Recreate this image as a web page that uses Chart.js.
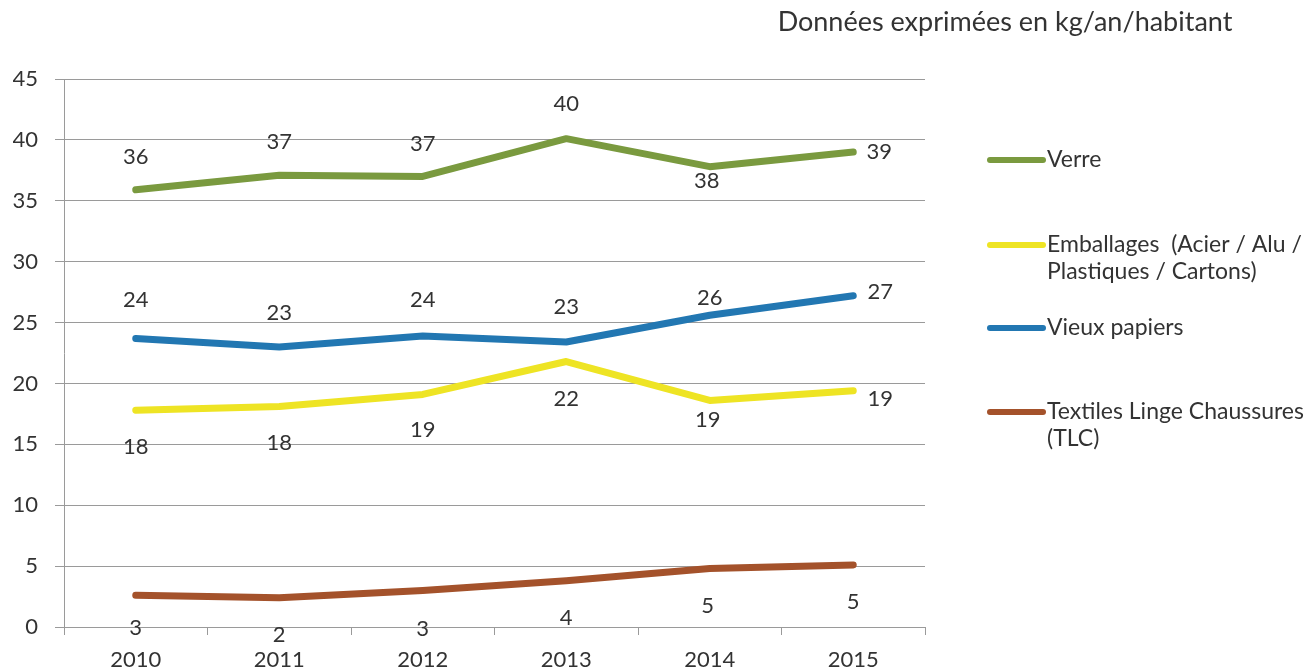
<!DOCTYPE html>
<html>
<head>
<meta charset="utf-8">
<script src="https://cdn.jsdelivr.net/npm/chart.js@4/dist/chart.umd.min.js"></script>
<style>
html,body{margin:0;padding:0;background:#fff;}
#wrap{width:1305px;height:671px;position:relative;}
</style>
</head>
<body>
<div id="wrap"><canvas id="c" width="1305" height="671"></canvas></div>
<script>
// ---- data ----
const years = ['2010','2011','2012','2013','2014','2015'];
const verre = [35.9, 37.1, 37.0, 40.1, 37.8, 39.0];
const emballages = [17.8, 18.1, 19.1, 21.8, 18.6, 19.4];
const vieuxPapiers = [23.7, 23.0, 23.9, 23.4, 25.6, 27.2];
const tlc = [2.6, 2.4, 3.0, 3.8, 4.8, 5.1];
const seriesNames = ['Verre', 'Emballages  (Acier / Alu /\nPlastiques / Cartons)', 'Vieux papiers', 'Textiles Linge Chaussures\n(TLC)'];
const yTicks = [0, 5, 10, 15, 20, 25, 30, 35, 40, 45];
const subtitle = 'Données exprimées en kg/an/habitant';

// ---- style ----
const colors = ['#7a9a3f', '#eee424', '#2277b2', '#a4522b'];
// label offsets (px) relative to each point, per series
const labelOffsets = [
  [[0,-33],[0,-33],[0,-33],[0,-35],[-3,14],[26,0]],
  [[0,37],[0,36],[0,36],[0,37],[-2,19],[27,8]],
  [[0,-38],[0,-34],[0,-36],[0,-35],[0,-17],[27,-4]],
  [[0,33],[0,37],[0,38],[0,37],[-2,37],[0,37]]
];
const legendY = [160, 245, 328, 412];
const FONT = 'Lato, "Open Sans", "DejaVu Sans", sans-serif';
const TXT = '#333333';

const dataLabels = {
  id: 'dataLabels',
  afterDatasetsDraw(chart) {
    const ctx = chart.ctx;
    ctx.save();
    ctx.font = '22px ' + FONT;
    ctx.fillStyle = TXT;
    ctx.textAlign = 'center';
    ctx.textBaseline = 'middle';
    chart.data.datasets.forEach((ds, i) => {
      const meta = chart.getDatasetMeta(i);
      meta.data.forEach((pt, j) => {
        const off = labelOffsets[i][j];
        ctx.fillText(String(Math.round(ds.data[j])), pt.x + off[0], pt.y + off[1]);
      });
    });
    ctx.restore();
  }
};

const sideLegend = {
  id: 'sideLegend',
  afterDraw(chart) {
    const ctx = chart.ctx;
    ctx.save();
    // subtitle
    ctx.font = '27px ' + FONT;
    ctx.fillStyle = TXT;
    ctx.textAlign = 'center';
    ctx.textBaseline = 'middle';
    ctx.fillText(subtitle, 1005, 22);
    // legend
    ctx.font = '23px ' + FONT;
    ctx.textAlign = 'left';
    seriesNames.forEach((name, i) => {
      const y = legendY[i];
      ctx.strokeStyle = colors[i];
      ctx.lineWidth = 6;
      ctx.lineCap = 'round';
      ctx.beginPath();
      ctx.moveTo(990, y);
      ctx.lineTo(1043, y);
      ctx.stroke();
      ctx.fillStyle = TXT;
      name.split('\n').forEach((ln, k) => {
        ctx.fillText(ln, 1047, y + k * 27);
      });
    });
    ctx.restore();
  }
};

const allSeries = [verre, emballages, vieuxPapiers, tlc];
new Chart(document.getElementById('c'), {
  type: 'line',
  data: {
    labels: years,
    datasets: allSeries.map((d, i) => ({
      label: seriesNames[i].replace('\n', ' '),
      data: d,
      borderColor: colors[i],
      backgroundColor: colors[i],
      borderWidth: 7,
      borderCapStyle: 'round',
      borderJoinStyle: 'round',
      pointRadius: 0,
      tension: 0
    }))
  },
  options: {
    responsive: false,
    animation: false,
    layout: { padding: { left: 13, top: 79, right: 380, bottom: 0 } },
    plugins: { legend: { display: false }, tooltip: { enabled: false }, title: { display: false } },
    scales: {
      x: {
        offset: true,
        afterFit(axis) { axis.height = 44; },
        grid: { display: true, drawOnChartArea: false, drawTicks: true, tickLength: 8, color: '#9a9a9a', offset: true },
        border: { display: true, color: '#9a9a9a', width: 1 },
        ticks: { font: { family: FONT, size: 22 }, color: TXT, padding: 12, maxRotation: 0 }
      },
      y: {
        min: 0, max: 45,
        afterFit(axis) { axis.width = 51; },
        afterBuildTicks(axis) { axis.ticks = yTicks.map(v => ({ value: v })); },
        grid: { color: '#9a9a9a', tickLength: 9, lineWidth: 1 },
        border: { display: true, color: '#9a9a9a', width: 1 },
        ticks: { font: { family: FONT, size: 22 }, color: TXT, padding: 17 }
      }
    }
  },
  plugins: [dataLabels, sideLegend]
});
</script>
</body>
</html>
